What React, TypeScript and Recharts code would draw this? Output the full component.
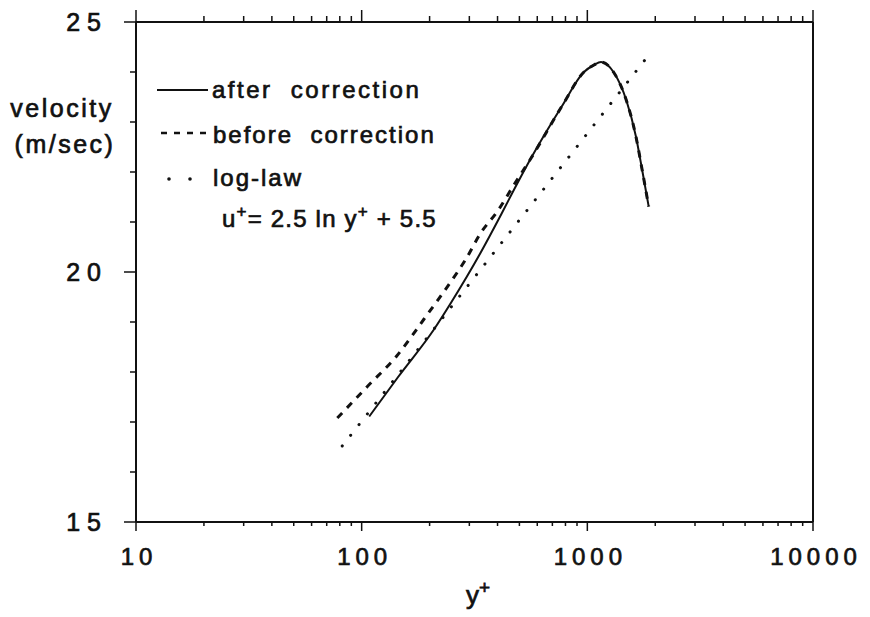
import { Line, LineChart, XAxis, YAxis } from "recharts"

// axis ticks
const majorX = [10, 100, 1000, 10000]
const minorX = [
  20, 30, 40, 50, 60, 70, 80, 90,
  200, 300, 400, 500, 600, 700, 800, 900,
  2000, 3000, 4000, 5000, 6000, 7000, 8000, 9000,
]
const majorY = [15, 20, 25]
const minorY = [16, 17, 18, 19, 21, 22, 23, 24]

// after correction (solid)
const afterYPlus = [108, 145, 209, 250, 336, 415, 480, 560, 770, 966, 1070, 1150, 1310, 1490, 1640, 1750, 1870]
const afterU = [17.11, 17.9, 18.85, 19.4, 20.38, 21.15, 21.7, 22.26, 23.31, 24.0, 24.14, 24.2, 23.99, 23.43, 22.72, 22.04, 21.31]

// before correction (dashed)
const beforeYPlus = [78, 106, 143, 189, 265, 288, 337, 402, 477, 560, 770, 966, 1070, 1150, 1310, 1490, 1640, 1750, 1870]
const beforeU = [17.08, 17.71, 18.32, 19.06, 19.99, 20.24, 20.78, 21.23, 21.77, 22.26, 23.31, 24.0, 24.14, 24.2, 23.99, 23.43, 22.72, 22.04, 21.31]

// log-law u+ = 2.5 ln y+ + 5.5 (dotted)
const logLawYPlus = [82, 1880]
const logLawU = [16.52, 24.35]

const toPoints = (xs: number[], ys: number[]) => xs.map((x, i) => ({ yPlus: x, u: ys[i] }))

const allX = [...majorX, ...minorX].sort((a, b) => a - b)
const allY = [...majorY, ...minorY].sort((a, b) => a - b)

const FONT = "'Liberation Sans', Arial, Helvetica, sans-serif"
const MAJOR = 12
const MINOR = 6
const INK = "#111"
// scanned lettering is a bit heavier than regular weight
const HEAVY = { stroke: INK, strokeWidth: 0.7 }

const BottomTick = ({ x, y, payload }: any) => {
  const major = majorX.includes(payload.value)
  return (
    <g>
      <line x1={x} x2={x} y1={y} y2={y + (major ? MAJOR - 3 : MINOR - 2)} stroke={INK} strokeWidth={1.5} />
      {major && (
        <text
          x={x + 3}
          y={y + 34}
          textAnchor="middle"
          dominantBaseline="central"
          fontFamily={FONT}
          fontSize={24}
          letterSpacing={5}
          fill={INK}
          {...HEAVY}
        >
          {payload.value}
        </text>
      )}
    </g>
  )
}

const TopTick = ({ x, y, payload }: any) => {
  const major = majorX.includes(payload.value)
  return <line x1={x} x2={x} y1={y} y2={y - (major ? MAJOR : MINOR)} stroke={INK} strokeWidth={1.5} />
}

const LeftTick = ({ x, y, payload }: any) => {
  const major = majorY.includes(payload.value)
  return (
    <g>
      <line x1={x} x2={x - (major ? MAJOR : MINOR)} y1={y} y2={y} stroke={INK} strokeWidth={1.5} />
      {major && (
        <text
          x={x - 28}
          y={y}
          textAnchor="end"
          dominantBaseline="central"
          fontFamily={FONT}
          fontSize={25}
          letterSpacing={7}
          fill={INK}
          {...HEAVY}
        >
          {payload.value}
        </text>
      )}
    </g>
  )
}

const RightTick = ({ x, y, payload }: any) => {
  const major = majorY.includes(payload.value)
  return <line x1={x} x2={x + (major ? MAJOR : 4)} y1={y} y2={y} stroke={INK} strokeWidth={1.5} />
}

const Overlay = () => (
  <svg
    width={870}
    height={617}
    style={{ position: "absolute", left: 0, top: 0, pointerEvents: "none" }}
    fontFamily={FONT}
    fill={INK}
  >
    <g {...HEAVY}>
      <text x={62} y={117} textAnchor="middle" fontSize={25} letterSpacing={2.5}>velocity</text>
      <text x={65} y={153} textAnchor="middle" fontSize={25} letterSpacing={2.5}>(m/sec)</text>

      <text x={212} y={98} fontSize={24} letterSpacing={2.5} style={{ whiteSpace: "pre" }}>after  correction</text>
      <text x={213} y={143} fontSize={24} letterSpacing={2} style={{ whiteSpace: "pre" }}>before  correction</text>
      <text x={213} y={186} fontSize={24} letterSpacing={2}>log-law</text>

      <text x={222} y={227} fontSize={24} letterSpacing={1.2} style={{ whiteSpace: "pre" }}>
        u<tspan dy={-10} fontSize={17}>+</tspan>
        <tspan dy={10}>= 2.5 ln y</tspan>
        <tspan dy={-10} fontSize={17}>+</tspan>
        <tspan dy={10}> + 5.5</tspan>
      </text>

      <text x={466} y={604} fontSize={26}>
        y<tspan dy={-10} fontSize={19}>+</tspan>
      </text>
    </g>

    <line x1={157} x2={208} y1={90} y2={90} stroke={INK} strokeWidth={2} />
    <line x1={161} x2={207} y1={133} y2={133} stroke={INK} strokeWidth={2.5} strokeDasharray="6 7" />
    <circle cx={169} cy={179} r={1.8} />
    <circle cx={190} cy={179} r={1.8} />
  </svg>
)

export default function App() {
  return (
    <div style={{ position: "absolute", left: 0, top: 0, width: 870, height: 617, background: "#fff" }}>
      <LineChart width={870} height={617} margin={{ top: 0, right: 27, bottom: 35, left: 76 }}>
        <XAxis
          xAxisId="bottom"
          dataKey="yPlus"
          type="number"
          scale="log"
          domain={[10, 10000]}
          allowDataOverflow
          ticks={allX}
          interval={0}
          height={60}
          tickSize={0}
          tickMargin={0}
          tickLine={false}
          axisLine={{ stroke: INK, strokeWidth: 2 }}
          tick={(p: any) => <BottomTick {...p} />}
        />
        <XAxis
          xAxisId="top"
          orientation="top"
          dataKey="yPlus"
          type="number"
          scale="log"
          domain={[10, 10000]}
          allowDataOverflow
          ticks={allX}
          interval={0}
          height={22}
          tickSize={0}
          tickMargin={0}
          tickLine={false}
          axisLine={{ stroke: INK, strokeWidth: 2 }}
          tick={(p: any) => <TopTick {...p} />}
        />
        <YAxis
          yAxisId="left"
          type="number"
          domain={[15, 25]}
          ticks={allY}
          interval={0}
          width={60}
          tickSize={0}
          tickMargin={0}
          tickLine={false}
          axisLine={{ stroke: INK, strokeWidth: 2 }}
          tick={(p: any) => <LeftTick {...p} />}
        />
        <YAxis
          yAxisId="right"
          orientation="right"
          type="number"
          domain={[15, 25]}
          ticks={allY}
          interval={0}
          width={30}
          tickSize={0}
          tickMargin={0}
          tickLine={false}
          axisLine={{ stroke: INK, strokeWidth: 2 }}
          tick={(p: any) => <RightTick {...p} />}
        />
        <Line
          xAxisId="bottom"
          yAxisId="left"
          data={toPoints(logLawYPlus, logLawU)}
          dataKey="u"
          type="linear"
          stroke={INK}
          strokeWidth={3}
          strokeDasharray="0.1 13.5"
          strokeLinecap="round"
          dot={false}
          isAnimationActive={false}
        />
        <Line
          xAxisId="bottom"
          yAxisId="left"
          data={toPoints(beforeYPlus, beforeU)}
          dataKey="u"
          type="monotone"
          stroke={INK}
          strokeWidth={3}
          strokeDasharray="7 7"
          dot={false}
          isAnimationActive={false}
        />
        <Line
          xAxisId="bottom"
          yAxisId="left"
          data={toPoints(afterYPlus, afterU)}
          dataKey="u"
          type="monotone"
          stroke={INK}
          strokeWidth={2}
          dot={false}
          isAnimationActive={false}
        />
      </LineChart>
      <Overlay />
    </div>
  )
}
